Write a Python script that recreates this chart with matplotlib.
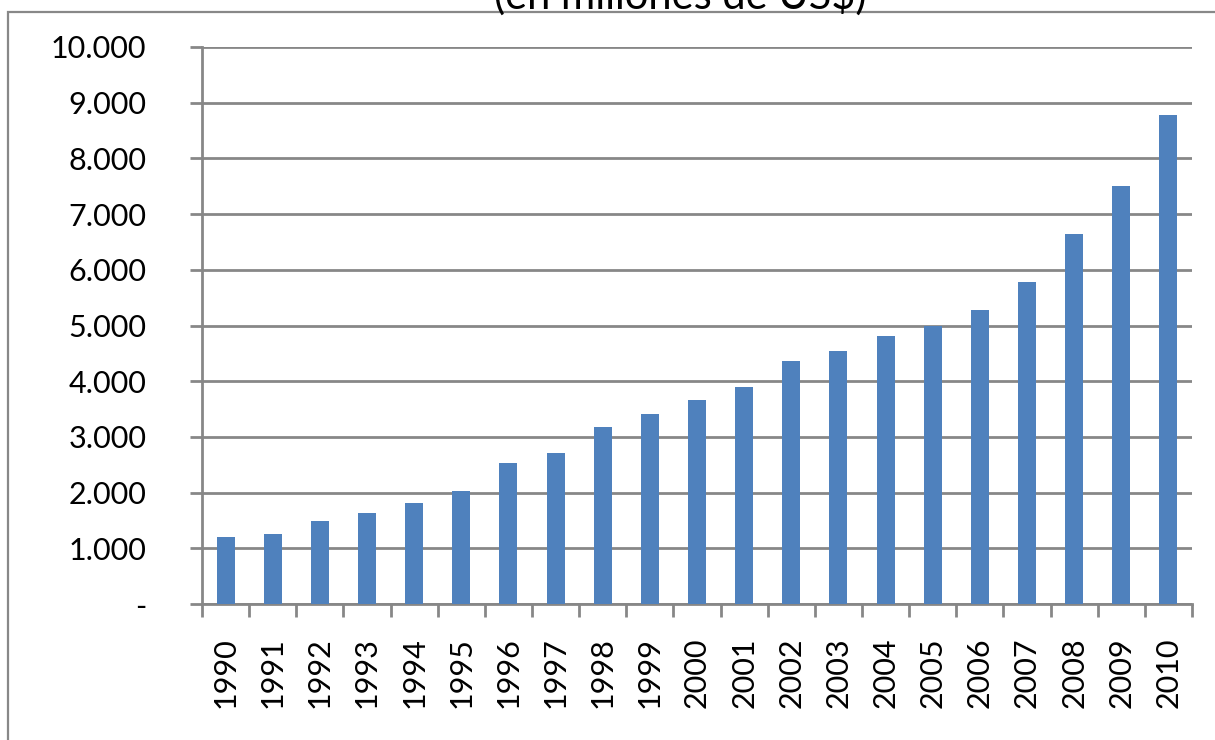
import matplotlib
matplotlib.use("Agg")
import matplotlib.pyplot as plt
from matplotlib.patches import Rectangle
import numpy as np

years = ["1990", "1991", "1992", "1993", "1994", "1995", "1996", "1997", "1998", "1999",
         "2000", "2001", "2002", "2003", "2004", "2005", "2006", "2007", "2008", "2009", "2010"]
values = [1200, 1255, 1490, 1630, 1810, 2025, 2530, 2710, 3170, 3410,
          3670, 3900, 4360, 4540, 4820, 5000, 5275, 5775, 6640, 7505, 8785]
ytick_vals = [0, 1000, 2000, 3000, 4000, 5000, 6000, 7000, 8000, 9000, 10000]
ytick_labels = ["-", "1.000", "2.000", "3.000", "4.000", "5.000", "6.000", "7.000",
                "8.000", "9.000", "10.000"]
title = "(en millones de US$)"

plt.rcParams['font.family'] = ['Lato', 'DejaVu Sans']
W, H = 1215, 740
fig = plt.figure(figsize=(W / 100, H / 100), dpi=100)
fig.patch.set_facecolor("white")

# outer chart frame (cropped)
fig.patches.append(Rectangle((8 / W, -0.2), 1.5, (H - 12) / H + 0.2,
                             transform=fig.transFigure, fill=False,
                             edgecolor="#888888", linewidth=1.6))

ax = fig.add_axes([202 / W, 1 - 604 / H, (1192 - 202) / W, (604 - 47) / H])
grey = "#878787"
x = np.arange(len(years))
ax.bar(x, values, width=0.38, color="#4F81BD", zorder=3)
ax.set_xlim(-0.5, len(years) - 0.5)
ax.set_ylim(0, 10000)

ax.set_yticks(ytick_vals)
ax.set_yticklabels(ytick_labels, fontsize=22)
ax.yaxis.grid(True, color=grey, linewidth=2, zorder=0)
ax.tick_params(axis="y", length=9, width=2, color=grey, pad=31)

ax.set_xticks(np.arange(len(years) + 1) - 0.5)
ax.set_xticklabels([])
ax.set_xticks(x, minor=True)
ax.set_xticklabels(years, minor=True, rotation=90, fontsize=22)
ax.tick_params(axis="x", which="major", length=9, width=2, color=grey, direction="out")
ax.tick_params(axis="x", which="minor", length=0, pad=24)

for s in ["top", "right"]:
    ax.spines[s].set_visible(False)
for s in ["left", "bottom"]:
    ax.spines[s].set_color(grey)
    ax.spines[s].set_linewidth(2)

fig.text(680 / W, 1 - 9 / H, title, ha="center", va="baseline", fontsize=30)

fig.savefig("out.png", dpi=100)
